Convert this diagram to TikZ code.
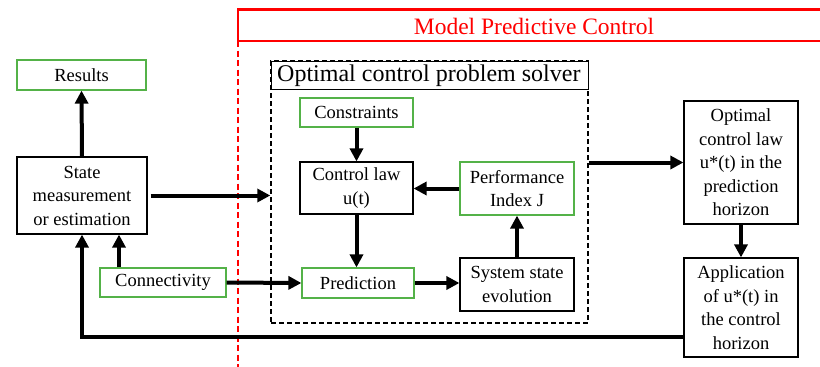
\documentclass[tikz,border=0pt]{standalone}
\usepackage{fontspec}
\setmainfont{Liberation Serif}
\usetikzlibrary{arrows.meta}
\definecolor{gboxc}{RGB}{84,178,72}
\definecolor{mpcred}{RGB}{255,0,0}
\tikzset{
  box/.style={draw=black, line width=1.2pt, align=center, inner sep=0pt,
    font=\fontsize{18.5}{23.5}\selectfont},
  gbox/.style={box, draw=gboxc},
  arr/.style={line width=4pt, -{Triangle[length=13pt,width=13pt]}},
}
\begin{document}
\begin{tikzpicture}[x=1pt,y=-1pt]
\useasboundingbox (0,0) rectangle (820,367);
% MPC header
\draw[mpcred, line width=2.5pt] (820,9.5) -- (238,9.5) -- (238,41) -- (820,41);
\node[text=mpcred, font=\fontsize{23.5}{26}\selectfont] (mpct) at (534,26) {Model Predictive Control};
\draw[mpcred, line width=2.5pt, dash pattern=on 6pt off 3.5pt] (238,41) -- (238,367);
% solver box
\node[draw=black, line width=1.4pt, dash pattern=on 5pt off 3pt, minimum width=317pt, minimum height=262pt, inner sep=0pt] (solver) at (429.5,192) {};
\node[draw=black, line width=1.4pt, fill=white, minimum width=317pt, minimum height=28pt, inner sep=0pt, anchor=north west] (stitle) at (271,61) {};
\node[anchor=west, font=\fontsize{24}{26}\selectfont, inner sep=0pt] (stitletext) at (277,75.5) {Optimal control problem solver};
% nodes
\node[gbox, minimum width=129pt, minimum height=30pt] (results) at (81.5,75) {Results};
\node[box, minimum width=130pt, minimum height=77pt] (state) at (82,195.5) {State\\measurement\\or estimation};
\node[gbox, minimum width=126pt, minimum height=29pt] (conn) at (163,282.5) {Connectivity};
\node[gbox, minimum width=113pt, minimum height=29pt] (constr) at (356.5,112.5) {Constraints};
\node[box, minimum width=113pt, minimum height=52pt] (claw) at (356.5,188) {Control law\\u(t)};
\node[gbox, minimum width=112pt, minimum height=30pt] (pred) at (358,283) {Prediction};
\node[gbox, minimum width=114pt, minimum height=53pt] (perf) at (517,188.5) {Performance\\Index J};
\node[box, minimum width=114pt, minimum height=53pt] (sys) at (517,284.5) {System state\\evolution};
\node[box, minimum width=114pt, minimum height=123pt] (opt) at (741,162.5) {Optimal\\control law\\u*(t) in the\\prediction\\horizon};
\node[box, minimum width=114pt, minimum height=99pt] (app) at (741,307.5) {Application\\of u*(t) in\\the control\\horizon};
% arrows
\draw[arr] (state.north) -- (results.south);
\draw[arr] ([xshift=3pt]state.east) -- (state.east -| solver.west);
\draw[arr] ([xshift=-44pt]conn.north) -- ([xshift=-44pt]conn.north |- state.south);
\draw[arr] (conn.east) -- (pred.west);
\draw[arr] (constr.south) -- (constr.south |- claw.north);
\draw[arr] (claw.south) -- (claw.south |- pred.north);
\draw[arr] (pred.east) -- (pred.east -| sys.west);
\draw[arr] (sys.north) -- (perf.south);
\draw[arr] (perf.west) -- (perf.west -| claw.east);
\draw[arr] (solver.east |- opt.west) -- (opt.west);
\draw[arr] (opt.south) -- (app.north);
\draw[arr] ([yshift=-29.5pt]app.west) -| (state.south);
\end{tikzpicture}
\end{document}
